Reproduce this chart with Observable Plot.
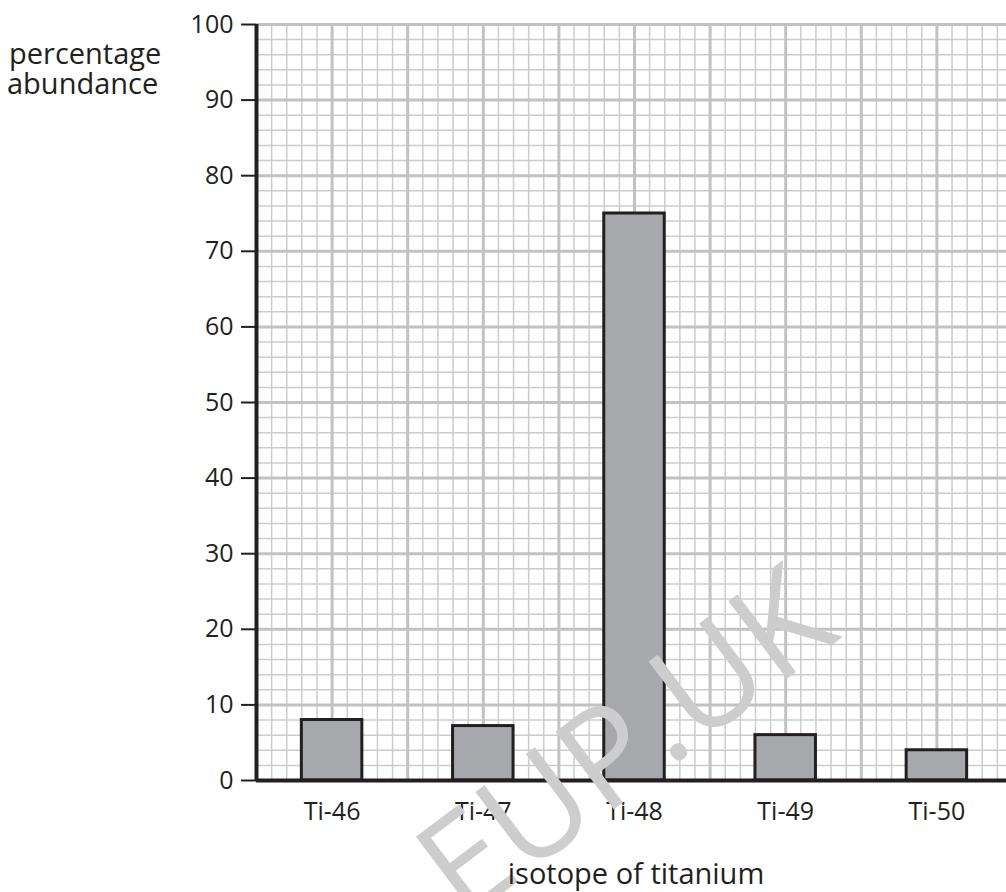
<!DOCTYPE html>
<html>
<head>
<meta charset="utf-8">
<script src="https://cdn.jsdelivr.net/npm/d3@7"></script>
<script src="https://cdn.jsdelivr.net/npm/@observablehq/plot@0.6"></script>
<style>
  body { margin: 0; background: #fff; }
  #wrap { position: relative; width: 1006px; height: 892px; overflow: hidden; }
  .lbl { position: absolute; font-family: "Open Sans", sans-serif; font-size: 29px; line-height: 30px; color: #231f20; white-space: nowrap; }
  #ylab1 { left: 9px; top: 38px; }
  #ylab2 { left: 7px; top: 68px; }
  #xlab { left: 636px; top: 858px; transform: translateX(-50%); }
  #wm { position: absolute; left: 622px; top: 738px; transform: translate(-50%, -50%) rotate(-37deg);
        font-family: "Open Sans", sans-serif; font-size: 136px; line-height: 1; color: #cdcdcd; white-space: nowrap; pointer-events: none; }
</style>
</head>
<body>
<div id="wrap"></div>
<script>
// ---- data ----
const isotopes = ["Ti-46", "Ti-47", "Ti-48", "Ti-49", "Ti-50"];
const abundance = [8, 7.2, 75, 6, 4];
const yTicks = [0, 10, 20, 30, 40, 50, 60, 70, 80, 90, 100];
const yLabel = ["percentage", "abundance"];
const xLabel = "isotope of titanium";
const watermark = "EUP.UK";

// graph-paper layout: each isotope sits in the middle of a pair of major squares
const data = isotopes.map((name, i) => ({ name, value: abundance[i], pos: 10 + 20 * i }));
const minor = d3.range(0, 100, 2);
const major = d3.range(0, 101, 10);

const chart = Plot.plot({
  width: 1006,
  height: 892,
  marginLeft: 256,
  marginRight: 0,
  marginTop: 24,
  marginBottom: 112,
  style: { fontFamily: "Open Sans, sans-serif", color: "#231f20", background: "white", overflow: "visible" },
  x: { domain: [0, 750 / 7.56] },
  y: { domain: [0, 100] },
  marks: [
    Plot.ruleX(minor, { stroke: "#cbccce", strokeWidth: 1.5 }),
    Plot.ruleY(minor, { stroke: "#cbccce", strokeWidth: 1.5 }),
    Plot.ruleX(major, { stroke: "#c1c2c5", strokeWidth: 3 }),
    Plot.ruleY(major, { stroke: "#c1c2c5", strokeWidth: 3 }),
    Plot.rectY(data, {
      x1: d => d.pos - 4,
      x2: d => d.pos + 4,
      y1: 0,
      y2: "value",
      fill: "#a7a8ab",
      stroke: "#231f20",
      strokeWidth: 3
    }),
    Plot.ruleX([0], { stroke: "#231f20", strokeWidth: 4 }),
    Plot.ruleY([0], { stroke: "#231f20", strokeWidth: 4 }),
    Plot.axisY({ ticks: yTicks, tickSize: 15, tickPadding: 8, fontSize: 25, strokeWidth: 2, label: null }),
    Plot.axisX({
      ticks: data.map(d => d.pos),
      tickFormat: (d, i) => isotopes[i],
      tickSize: 0,
      tickPadding: 22,
      fontSize: 25,
      label: null
    })
  ]
});

const wrap = document.getElementById("wrap");
wrap.appendChild(chart);

const wm = document.createElement("div");
wm.id = "wm";
wm.textContent = watermark;
wrap.appendChild(wm);

yLabel.forEach((t, i) => {
  const el = document.createElement("div");
  el.id = "ylab" + (i + 1); el.className = "lbl";
  el.textContent = t;
  wrap.appendChild(el);
});

const xl = document.createElement("div");
xl.id = "xlab"; xl.className = "lbl";
xl.textContent = xLabel;
wrap.appendChild(xl);
</script>
</body>
</html>
